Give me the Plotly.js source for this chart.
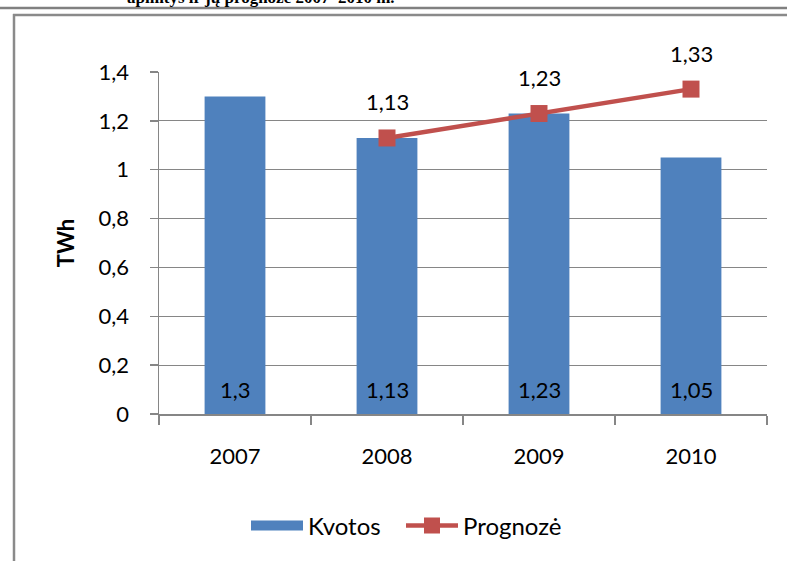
<!DOCTYPE html>
<html>
<head>
<meta charset="utf-8">
<script src="https://cdn.plot.ly/plotly-3.0.1.min.js"></script>
<style>
html,body{margin:0;padding:0;background:#fff;overflow:hidden;}
#chart{width:787px;height:561px;}
</style>
</head>
<body>
<div id="chart"></div>
<script>
const categories = ['2007', '2008', '2009', '2010'];
const kvotos = [1.3, 1.13, 1.23, 1.05];
const prognoze = [null, 1.13, 1.23, 1.33];
const yTicks = [0, 0.2, 0.4, 0.6, 0.8, 1, 1.2, 1.4];
const headerText = 'apimtys ir jų prognozė 2007–2010 m.';
const yTitle = 'TWh';
const seriesNames = ['Kvotos', 'Prognozė'];

const W = 787, H = 561;
const M = {l: 159, r: 20, t: 72, b: 147};
const PW = W - M.l - M.r, PH = H - M.t - M.b;
const px = x => (x - M.l) / PW;
const py = y => (H - M.b - y) / PH;

const blue = '#4F81BD', red = '#C0504D', gray = '#868686';
const fnt = 'Lato, "Open Sans", sans-serif';
const fmt = v => String(v).replace('.', ',');

const traces = [
  {
    type: 'bar', x: categories, y: kvotos, name: seriesNames[0],
    marker: {color: blue}, showlegend: false, legendgroup: 'k',
    hoverinfo: 'x+y'
  },
  {
    type: 'scatter', mode: 'lines', x: categories, y: categories.map(() => null),
    name: seriesNames[0], legendgroup: 'k', legend: 'legend',
    line: {color: blue, width: 15}, showlegend: true, hoverinfo: 'skip'
  },
  {
    type: 'scatter', mode: 'lines+markers', x: categories, y: prognoze,
    name: seriesNames[1], connectgaps: false, legend: 'legend2',
    line: {color: red, width: 4.5},
    marker: {color: red, symbol: 'square', size: 17}
  }
];

const annotations = [];
categories.forEach((c, i) => {
  annotations.push({
    x: i, y: 0, xref: 'x', yref: 'y', text: fmt(kvotos[i]),
    showarrow: false, yanchor: 'middle', yshift: 25,
    font: {family: fnt, size: 22, color: '#000'}
  });
  if (prognoze[i] !== null) {
    annotations.push({
      x: i, y: prognoze[i], xref: 'x', yref: 'y', text: fmt(prognoze[i]),
      showarrow: false, yanchor: 'middle', yshift: 36,
      font: {family: fnt, size: 22, color: '#000'}
    });
  }
});
annotations.push({
  x: px(125), y: py(9), xref: 'paper', yref: 'paper', text: '<b>' + headerText + '</b>',
  showarrow: false, xanchor: 'left', yanchor: 'bottom',
  font: {family: '"Liberation Serif", "DejaVu Serif", serif', size: 17, color: '#000'}
});

const shapes = [
  {type: 'line', xref: 'paper', yref: 'paper', x0: px(0), x1: px(787), y0: py(8), y1: py(8),
   line: {color: '#808080', width: 2.5}},
  {type: 'line', xref: 'paper', yref: 'paper', x0: px(13), x1: px(787), y0: py(15), y1: py(15),
   line: {color: '#8a8a8a', width: 2.5}},
  {type: 'line', xref: 'paper', yref: 'paper', x0: px(14), x1: px(14), y0: py(14), y1: py(561),
   line: {color: '#8a8a8a', width: 2.5}}
];

const legendBase = {
  orientation: 'h', yanchor: 'middle', xanchor: 'left', y: py(526),
  font: {family: fnt, size: 24, color: '#000'}, itemwidth: 52,
  bgcolor: 'rgba(0,0,0,0)'
};

const layout = {
  width: W, height: H,
  margin: M,
  paper_bgcolor: '#fff', plot_bgcolor: '#fff',
  separators: ', ',
  font: {family: fnt, size: 22, color: '#000'},
  showlegend: true,
  legend: Object.assign({}, legendBase, {x: px(246)}),
  legend2: Object.assign({}, legendBase, {x: px(401)}),
  bargap: 0.6,
  xaxis: {
    type: 'category', categoryorder: 'array', categoryarray: categories,
    range: [-0.5, 3.5], autorange: false,
    showline: true, linecolor: gray, linewidth: 1.5,
    ticks: 'outside', tickson: 'boundaries', ticklen: 9, tickcolor: gray, tickwidth: 1.5,
    showgrid: false, zeroline: false, ticklabelstandoff: 22, tickangle: 0,
    tickfont: {family: fnt, size: 22, color: '#000'}, fixedrange: true
  },
  yaxis: {
    range: [0, 1.4], autorange: false, tickvals: yTicks, showline: true, linecolor: gray, linewidth: 1.5,
    ticks: 'outside', ticklen: 8, tickcolor: gray, tickwidth: 1.5,
    showgrid: true, gridcolor: gray, gridwidth: 1.2, zeroline: false,
    ticklabelstandoff: 16,
    tickfont: {family: fnt, size: 22, color: '#000'},
    title: {text: '<b>' + yTitle + '</b>', standoff: 18, font: {family: fnt, size: 22, color: '#000'}},
    automargin: false, fixedrange: true
  },
  annotations: annotations,
  shapes: shapes
};

Plotly.newPlot('chart', traces, layout, {displayModeBar: false, staticPlot: true});
</script>
</body>
</html>
